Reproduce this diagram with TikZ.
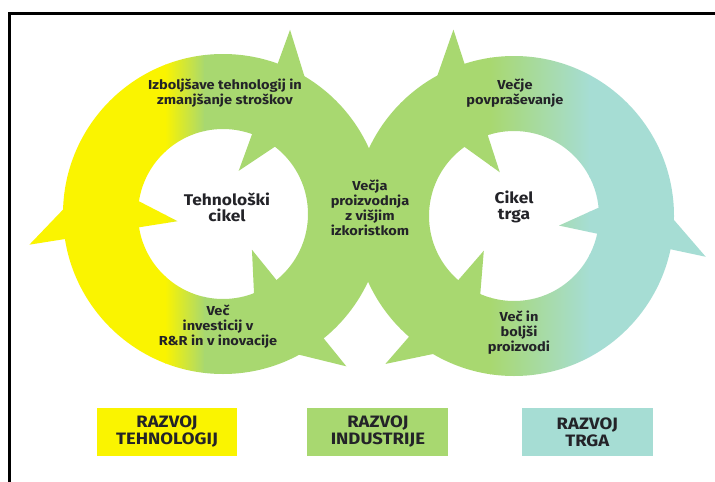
\documentclass[tikz,border=0pt]{standalone}
\usepackage{fontspec}
\setmainfont[FakeStretch=1.12]{Fira Sans}
\usetikzlibrary{positioning}
\definecolor{techyellow}{RGB}{250,244,0}
\definecolor{indgreen}{RGB}{168,216,112}
\definecolor{marketteal}{RGB}{166,221,212}
\definecolor{inktext}{RGB}{35,35,40}
\tikzstyle{cycletext} = [align=center, text=inktext, inner sep=0pt, font=\fontsize{13}{15}\selectfont\bfseries]
\tikzstyle{hubtext} = [align=center, text=inktext, inner sep=0pt, font=\fontsize{15.5}{16}\selectfont\bfseries]
\tikzstyle{legend} = [minimum height=48pt, align=center, text=inktext, inner sep=0pt, font=\fontsize{16.5}{17}\selectfont\bfseries]

% colour bands of the two rings
\newcommand{\techpaint}{%
  \fill[techyellow] (-300,-300) rectangle (166,800);
  \shade[left color=techyellow, right color=indgreen] (165,-300) rectangle (205,800);
  \fill[indgreen] (204,-300) rectangle (420,800);}
\newcommand{\marketpaint}{%
  \fill[indgreen] (300,-300) rectangle (491,800);
  \shade[left color=indgreen, right color=marketteal] (490,-300) rectangle (590,800);
  \fill[marketteal] (589,-300) rectangle (900,800);}
% outer and inner barb of one arrowhead: hub, angle, turn, paint
\newcommand{\barbs}[4]{%
  \begin{scope}
    \path (#1) ++(#2:196) coordinate (bo1) (#1) ++(#2:148) coordinate (bo2)
          (#1) ++({#2+#3*16}:148) coordinate (bo3);
    \clip (bo1) -- (bo2) -- (bo3) -- cycle;
    #4
  \end{scope}
  \begin{scope}
    \path (#1) ++(#2:46) coordinate (bi1) (#1) ++(#2:97) coordinate (bi2)
          (#1) ++({#2+#3*20}:97) coordinate (bi3);
    \clip (bi1) -- (bi2) -- (bi3) -- cycle;
    #4
  \end{scope}}

\begin{document}
\begin{tikzpicture}[x=1pt, y=-1pt]
\useasboundingbox (0,0) rectangle (715,482);
\fill[white] (0,0) rectangle (715,482);

% Rings
\coordinate (techhub) at (223,214);
\coordinate (markethub) at (514,216);
\begin{scope}[even odd rule]
  \clip (techhub) circle[radius=160] (techhub) circle[radius=85];
  \techpaint
\end{scope}
\begin{scope}[even odd rule]
  \clip (markethub) circle[radius=160] (markethub) circle[radius=85];
  \marketpaint
\end{scope}

% Arrowheads
\barbs{techhub}{171}{1}{\techpaint}
\barbs{techhub}{-70}{1}{\techpaint}
\barbs{techhub}{51}{1}{\techpaint}
\barbs{markethub}{-108}{-1}{\marketpaint}
\barbs{markethub}{12}{-1}{\marketpaint}
\barbs{markethub}{131}{-1}{\marketpaint}

% Texts
\node[cycletext] (improve) at (225,93) {Izboljšave tehnologij in\\zmanjšanje stroškov};
\node[hubtext] (techcycle) at (227,207) {Tehnološki\\cikel};
\node[cycletext] (output) at (370,208) {Večja\\proizvodnja\\z višjim\\izkoristkom};
\node[cycletext] (demand) at (515,93) {Večje\\povpraševanje};
\node[hubtext] (marketcycle) at (514,207) {Cikel\\trga};
\node[cycletext] (invest) at (218,327) {Več\\investicij v\\R\&R in v inovacije};
\node[cycletext] (products) at (519,333) {Več in\\boljši\\proizvodi};

% Legend
\node[legend, fill=techyellow, minimum width=140pt] (techdev) at (167,432) {RAZVOJ\\TEHNOLOGIJ};
\node[legend, fill=indgreen, minimum width=141pt, right=70pt of techdev] (inddev) {RAZVOJ\\INDUSTRIJE};
\node[legend, fill=marketteal, minimum width=131pt, right=73pt of inddev] (marketdev) {RAZVOJ\\TRGA};

% Frame
\draw[line width=3.5pt] (9.5,482) -- (9.5,13.5) -- (715,13.5);

\end{tikzpicture}
\end{document}
